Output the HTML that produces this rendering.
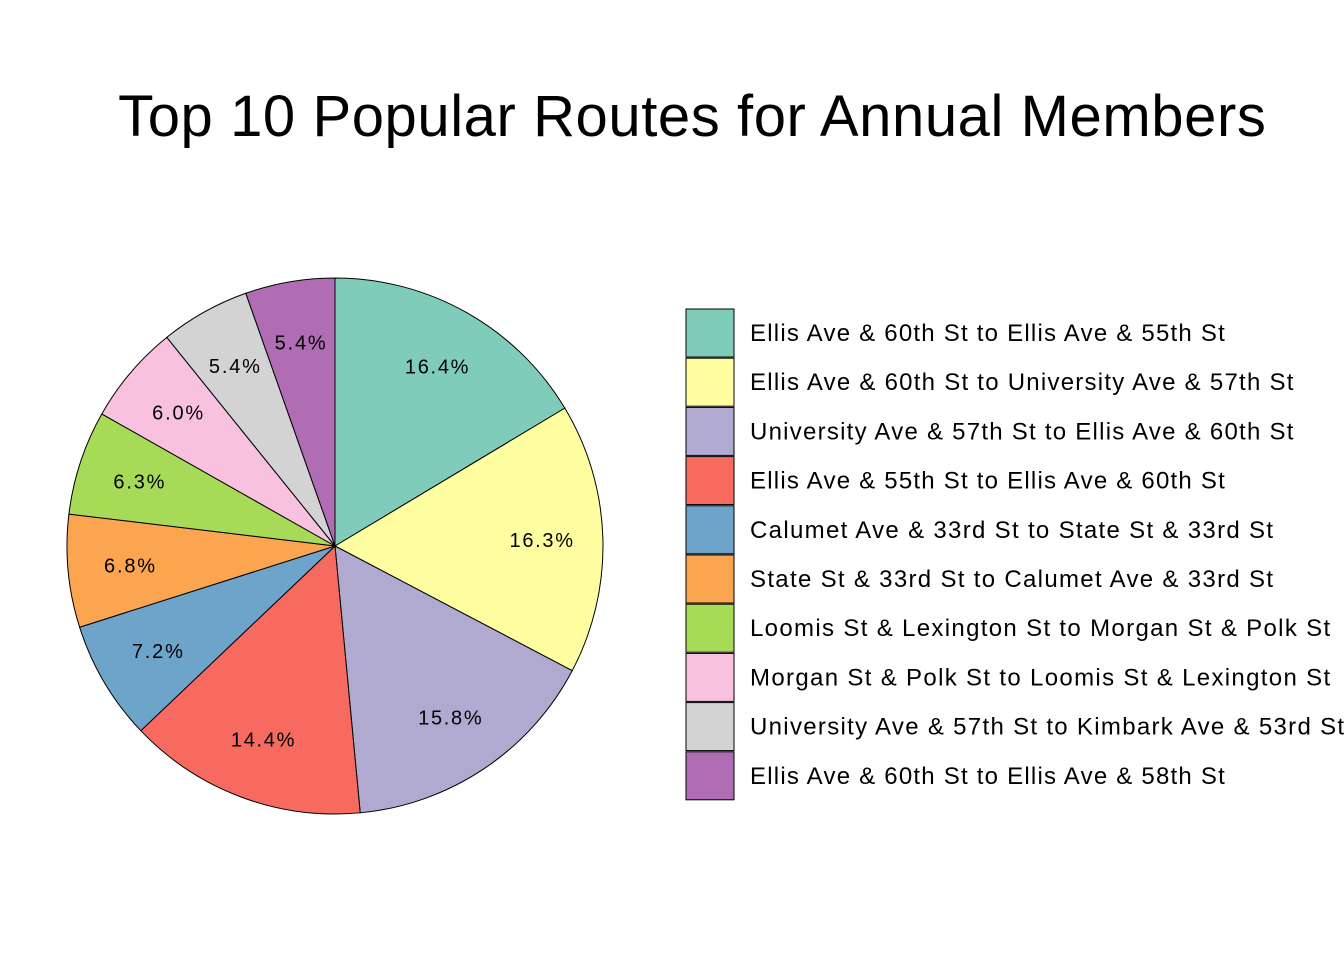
<!DOCTYPE html>
<html><head><meta charset="utf-8"><style>
body{margin:0;background:#fff;}
svg{display:block;font-family:"Liberation Sans",sans-serif;}
</style></head><body>
<svg id="chart" width="1344" height="960">
<text id="title" x="692" y="136" text-anchor="middle" font-size="58">Top 10 Popular Routes for Annual Members</text>
<g id="slices"></g><g id="labels"></g><g id="legend"></g>
</svg>
<script>
const categories=["Ellis Ave & 60th St to Ellis Ave & 55th St","Ellis Ave & 60th St to University Ave & 57th St","University Ave & 57th St to Ellis Ave & 60th St","Ellis Ave & 55th St to Ellis Ave & 60th St","Calumet Ave & 33rd St to State St & 33rd St","State St & 33rd St to Calumet Ave & 33rd St","Loomis St & Lexington St to Morgan St & Polk St","Morgan St & Polk St to Loomis St & Lexington St","University Ave & 57th St to Kimbark Ave & 53rd St","Ellis Ave & 60th St to Ellis Ave & 58th St"];
const values=[16.4,16.3,15.8,14.4,7.2,6.8,6.3,6.0,5.4,5.4];
const colors=["#7FCCBB","#FFFFA1","#B0A9D0","#F66A5F","#6EA3CA","#FCA551","#A7DB57","#F9C1E0","#D3D3D3","#B06DB3"];
const NS="http://www.w3.org/2000/svg";
const cx=335,cy=546,R=268;
const total=values.reduce((a,b)=>a+b,0);
const sl=document.getElementById('slices'),lb=document.getElementById('labels'),lg=document.getElementById('legend');
function stretch(t,f){const w=t.getComputedTextLength();t.setAttribute('textLength',w*f);t.setAttribute('lengthAdjust','spacing');}
stretch(document.getElementById('title'),1.02);
let a0=0;
function pt(a,r){return [cx+r*Math.sin(a),cy-r*Math.cos(a)];}
values.forEach((v,i)=>{
  const a1=a0+v/total*2*Math.PI;
  const p0=pt(a0,R),p1=pt(a1,R);
  const p=document.createElementNS(NS,'path');
  p.setAttribute('d',`M${cx},${cy}L${p0[0]},${p0[1]}A${R},${R} 0 ${a1-a0>Math.PI?1:0} 1 ${p1[0]},${p1[1]}Z`);
  p.setAttribute('fill',colors[i]);p.setAttribute('stroke','#000');p.setAttribute('stroke-width','1');
  
  
  sl.appendChild(p);
  const m=(a0+a1)/2,lp=pt(m,R*0.77);
  const t=document.createElementNS(NS,'text');
  t.setAttribute('x',lp[0]);t.setAttribute('y',lp[1]+7);t.setAttribute('text-anchor','middle');t.setAttribute('font-size','20');
  t.textContent=v.toFixed(1)+'%';
  
  
  lb.appendChild(t);
  stretch(t,1.12);
  const y=309+i*49.2;
  const r=document.createElementNS(NS,'rect');
  r.setAttribute('x',686);r.setAttribute('y',y);r.setAttribute('width',48);r.setAttribute('height',48);
  r.setAttribute('fill',colors[i]);r.setAttribute('stroke','#000');r.setAttribute('stroke-width','1');
  
  
  lg.appendChild(r);
  const lt=document.createElementNS(NS,'text');
  lt.setAttribute('x',750);lt.setAttribute('y',y+32);lt.setAttribute('font-size','24');
  lt.textContent=categories[i];
  
  
  lg.appendChild(lt);
  stretch(lt,1.118);
  a0=a1;
});
</script>
</body></html>
